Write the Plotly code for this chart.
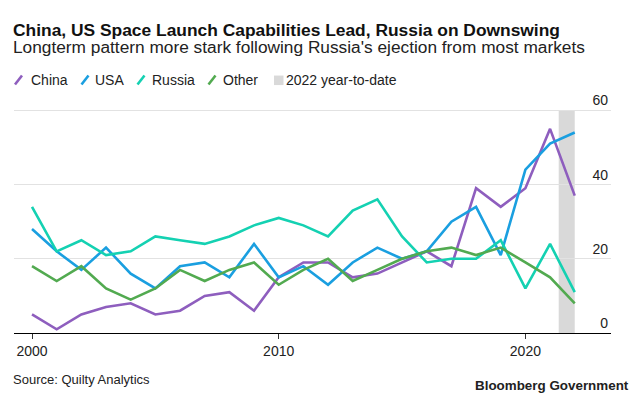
import plotly.graph_objects as go

years = list(range(2000, 2023))
china = [5, 1, 5, 7, 8, 5, 6, 10, 11, 6, 15, 19, 19, 15, 16, 19, 22, 18, 39, 34, 39, 55, 37]
usa = [28, 22, 17, 23, 16, 12, 18, 19, 15, 24, 15, 18, 13, 19, 23, 20, 22, 30, 34, 21, 44, 51, 54]
russia = [34, 22, 25, 21, 22, 26, 25, 24, 26, 29, 31, 29, 26, 33, 36, 26, 19, 20, 20, 25, 12, 24, 11]
other = [18, 14, 18, 12, 9, 12, 17, 14, 17, 19, 13, 17, 20, 14, 17, 20, 22, 23, 21, 23, 19, 15, 8]

series_names = ["China", "USA", "Russia", "Other"]
series_colors = ["#8e5ebe", "#1a9fe0", "#14d1b2", "#52aa50"]
ytd_label = "2022 year-to-date"
ytd_start, ytd_end = 2021.35, 2022
x_ticks = [2000, 2010, 2020]
y_ticks = [0, 20, 40, 60]

title = "China, US Space Launch Capabilities Lead, Russia on Downswing"
subtitle = "Longterm pattern more stark following Russia's ejection from most markets"
source = "Source: Quilty Analytics"
brand = "Bloomberg Government"

FONT = "Liberation Sans, Arial, sans-serif"
W, H = 633, 399
Y_TOP = 66
L, R, B = 14, 611, 333.3
UNIT = (333.3 - 110.7) / 60
T = B - Y_TOP * UNIT

def px(x):
    return (x - L) / (R - L)

def py(y):
    return (B - y) / (B - T)

fig = go.Figure()
for name, vals, col in zip(series_names, [china, usa, russia, other], series_colors):
    fig.add_trace(go.Scatter(x=years, y=vals, mode="lines", name=name,
                             line=dict(color=col, width=2.6), showlegend=False,
                             hoverinfo="x+y+name"))

fig.add_shape(type="rect", xref="x", yref="y", x0=ytd_start, x1=ytd_end, y0=0, y1=60,
              fillcolor="#d9d9d9", line=dict(width=0), layer="below")

annotations = [
    dict(text="<b>" + title + "</b>", x=px(13), y=py(30), xanchor="left", yanchor="middle",
         font=dict(size=17.4, color="#111111", family=FONT)),
    dict(text=subtitle, x=px(13), y=py(47), xanchor="left", yanchor="middle",
         font=dict(size=17.3, color="#222222", family=FONT)),
    dict(text=source, x=px(13), y=py(380), xanchor="left", yanchor="middle",
         font=dict(size=13, color="#222222", family=FONT)),
    dict(text="<b>" + brand + "</b>", x=px(629), y=py(386), xanchor="right", yanchor="middle",
         font=dict(size=13.4, color="#222222", family=FONT)),
]

# manual legend
leg_y = 80.5
slash_cx = [18.5, 85, 141, 212]
text_x = [31, 95, 152, 223]
shapes = []
for cx, tx, name, col in zip(slash_cx, text_x, series_names, series_colors):
    shapes.append(dict(type="line", xref="paper", yref="paper",
                       x0=px(cx - 3.5), y0=py(leg_y + 4.5), x1=px(cx + 3.5), y1=py(leg_y - 4.5),
                       line=dict(color=col, width=2.6)))
    annotations.append(dict(text=name, x=px(tx), y=py(leg_y), xanchor="left", yanchor="middle",
                            font=dict(size=14, color="#222222", family=FONT)))
shapes.append(dict(type="rect", xref="paper", yref="paper",
                   x0=px(274), x1=px(283.5), y0=py(85.5), y1=py(76), fillcolor="#d9d9d9",
                   line=dict(width=0)))
annotations.append(dict(text=ytd_label, x=px(286), y=py(leg_y), xanchor="left", yanchor="middle",
                        font=dict(size=14, color="#222222", family=FONT)))

for a in annotations:
    a.update(xref="paper", yref="paper", showarrow=False, borderpad=0, borderwidth=0)
for s in shapes:
    fig.add_shape(**s)

fig.update_layout(
    width=W, height=H, autosize=False,
    margin=dict(l=L, r=W - R, t=T, b=H - B, pad=0),
    paper_bgcolor="white", plot_bgcolor="white",
    annotations=annotations,
    showlegend=False,
    font=dict(family=FONT, color="#222222"),
    xaxis=dict(range=[1999.27, 2023.47], tickvals=x_ticks, ticktext=[str(v) for v in x_ticks],
               showgrid=False, zeroline=False, showline=True, linecolor="#000000", linewidth=1,
               ticks="outside", ticklen=5, tickcolor="#333333", tickwidth=1,
               tickfont=dict(size=14, color="#222222", family=FONT), fixedrange=True),
    yaxis=dict(range=[0, Y_TOP], tickvals=y_ticks, ticktext=[str(v) for v in y_ticks], side="right",
               ticklabelposition="inside top", showgrid=True, gridcolor="#e2e2e2", gridwidth=1,
               zeroline=False, showline=False, ticks="", ticklen=0,
               tickfont=dict(size=14, color="#222222", family=FONT), fixedrange=True),
)

fig.write_html("out.html", config={"displayModeBar": False},
               post_script="document.body.style.margin='0';document.body.style.padding='0';"
                           "document.documentElement.style.overflow='hidden';")
